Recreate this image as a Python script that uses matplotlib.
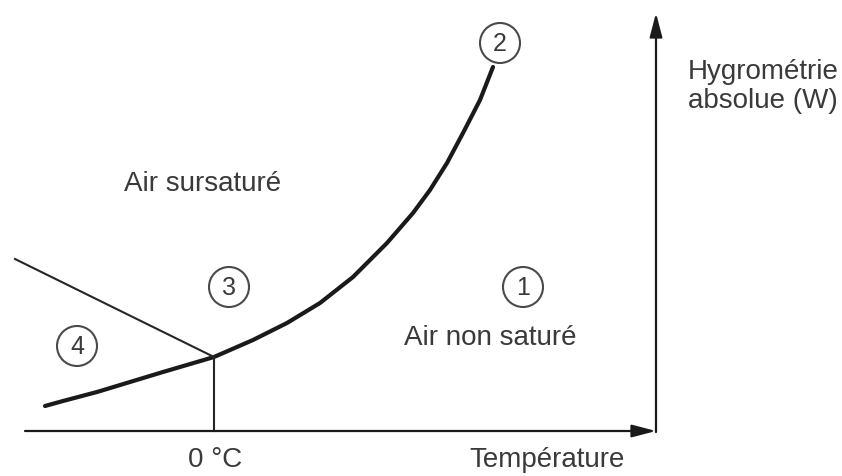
import matplotlib.pyplot as plt
from matplotlib.patches import Circle

# Saturation curve (pixel coordinates, y downwards)
curve_x = [45, 63, 97, 130, 163, 197, 214, 253, 287, 320, 353, 387, 413, 430, 447, 463, 480, 493]
curve_y = [406, 401, 392, 382, 372, 362, 357, 340, 323, 303, 277, 243, 213, 190, 163, 133, 100, 67]

# Ice / supercooled boundary line
ice_x = [15, 214]
ice_y = [259, 357]

# 0 °C marker and axes position
zero_x = 214
axis_y = 431
axis_x = 656

# Numbered regions
region_labels = ['1', '2', '3', '4']
region_x = [523, 500, 229, 77]
region_y = [287, 43, 287, 346]

# Text labels
text_labels = ['Air sursaturé', 'Air non saturé', '0 °C', 'Température', 'Hygrométrie', 'absolue (W)']
text_x = [203, 490, 215, 547, 688, 688]
text_y = [184, 338, 460, 460, 72, 101]
text_ha = ['center', 'center', 'center', 'center', 'left', 'left']

plt.rcParams['font.family'] = ['Liberation Sans', 'DejaVu Sans']

fig = plt.figure(figsize=(8.42, 4.76), dpi=100)
ax = fig.add_axes([0, 0, 1, 1])
ax.set_xlim(0, 842)
ax.set_ylim(476, 0)
ax.axis('off')

ink = '#1a1a1a'
arrow = '-|>,head_length=1.45,head_width=0.38'

# axes with arrows
ax.annotate('', xy=(axis_x, axis_y), xytext=(25, axis_y),
            arrowprops=dict(arrowstyle=arrow, color=ink, lw=1.6, mutation_scale=10,
                            shrinkA=0, shrinkB=0))
ax.annotate('', xy=(axis_x, 13), xytext=(axis_x, axis_y + 1),
            arrowprops=dict(arrowstyle=arrow, color=ink, lw=1.6, mutation_scale=10,
                            shrinkA=0, shrinkB=0))

ax.plot(curve_x, curve_y, color=ink, lw=3.0, solid_capstyle='round', solid_joinstyle='round')
ax.plot(ice_x, ice_y, color='#262626', lw=1.5)
ax.plot([zero_x, zero_x], [curve_y[6], axis_y], color='#262626', lw=1.5)

for lab, x, y in zip(region_labels, region_x, region_y):
    ax.add_patch(Circle((x, y), 20, fc='white', ec='#4a4a4a', lw=1.5, zorder=3))
    ax.text(x, y + 1, lab, ha='center', va='center', fontsize=18, color='#3a3a3a', zorder=4)

for lab, x, y, ha in zip(text_labels, text_x, text_y, text_ha):
    ax.text(x, y, lab, ha=ha, va='center', fontsize=20, color='#3a3a3a')

fig.savefig('out.png', dpi=100)
